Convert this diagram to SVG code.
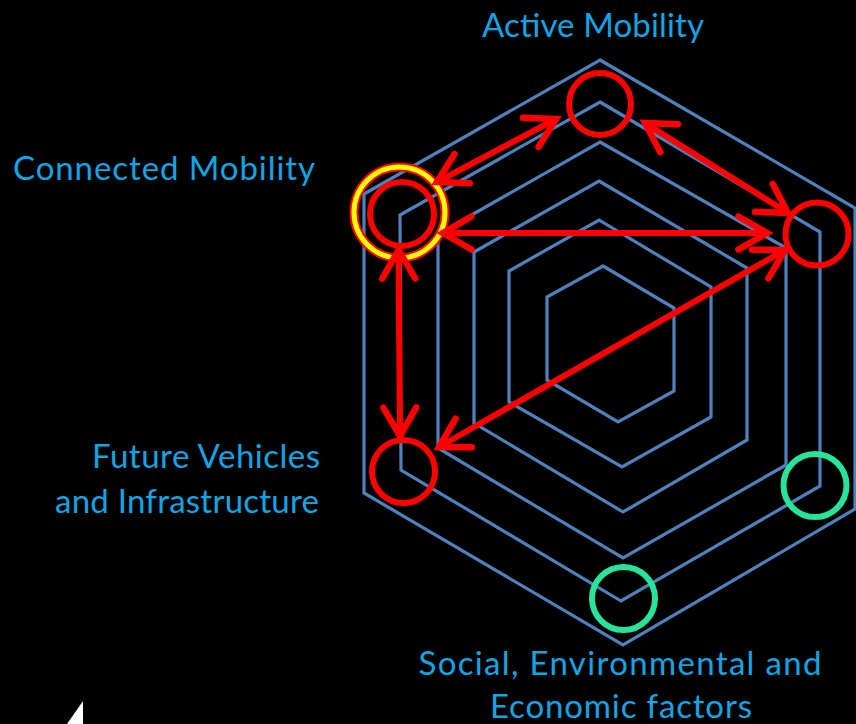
<svg xmlns="http://www.w3.org/2000/svg" width="856" height="724" viewBox="0 0 856 724">
<style>
.hex{fill:none;stroke:#4f81bd;stroke-width:3.2;stroke-linejoin:miter}
.lbl{font-family:"Lato","Open Sans","Liberation Sans",sans-serif;font-weight:400;font-size:33px;fill:#13a5e3}
.rc{fill:none;stroke:#ff0000;stroke-width:6}
.gc{fill:none;stroke:#2ae39a;stroke-width:6}
.arr{fill:none;stroke:#ff0000;stroke-width:6;stroke-linecap:round;marker-start:url(#ah);marker-end:url(#ah)}
</style>
<defs>
<marker id="ah" markerUnits="userSpaceOnUse" markerWidth="60" markerHeight="60" refX="0" refY="0" viewBox="-40 -30 50 60" orient="auto-start-reverse" overflow="visible">
<path d="M-28.5,-16.5 L0,0 L-28.5,16.5" fill="none" stroke="#ff0000" stroke-width="6.5" stroke-linecap="round" stroke-linejoin="miter"/>
</marker>
</defs>
<rect x="0" y="0" width="856" height="724" fill="#000"/>
<g id="hexagons">
<polygon class="hex" points="600,60 855,208 855,509 623,645 364,493 364,194"/>
<polygon class="hex" points="600,102 820,232 820,486 621,601 401,470 400,215"/>
<polygon class="hex" points="600,142 786,248 786,465 623,558 438,448 438,234"/>
<polygon class="hex" points="599,181 747,268 747,440 623,512 474,423 474,252"/>
<polygon class="hex" points="599,220 711,287 711,417 622,467 509,402 509,271"/>
<polygon class="hex" points="603,266 674,308 674,391 618,422 547,380 547,297"/>
</g>
<g id="node-active">
<circle class="rc" cx="600" cy="104" r="31"/>
<text class="lbl" x="593" y="37" text-anchor="middle" textLength="222">Active Mobility</text>
</g>
<g id="node-connected">
<circle cx="399.5" cy="212.5" r="45.5" fill="none" stroke="#ff0000" stroke-width="9"/>
<circle cx="399.5" cy="212.5" r="45.5" fill="none" stroke="#ffff00" stroke-width="5"/>
<circle class="rc" cx="402" cy="214" r="32"/>
<text class="lbl" x="13" y="180" textLength="302">Connected Mobility</text>
</g>
<g id="node-right">
<circle class="rc" cx="817" cy="234" r="31.5"/>
</g>
<g id="node-future">
<circle class="rc" cx="403.5" cy="471.5" r="31.5"/>
<text class="lbl" x="320" y="468" text-anchor="end" textLength="228">Future Vehicles</text>
<text class="lbl" x="319" y="513" text-anchor="end" textLength="264">and Infrastructure</text>
</g>
<g id="node-green-right">
<circle class="gc" cx="815" cy="485.5" r="31.5"/>
</g>
<g id="node-social">
<circle class="gc" cx="623.5" cy="598.5" r="31.5"/>
<text class="lbl" x="620" y="675" text-anchor="middle" textLength="403">Social, Environmental and</text>
<text class="lbl" x="621" y="718" text-anchor="middle" textLength="262">Economic factors</text>
</g>
<g id="connectors">
<line class="arr" x1="437" y1="182" x2="556" y2="119"/>
<line class="arr" x1="645" y1="123" x2="788" y2="213"/>
<line class="arr" x1="443" y1="233" x2="767" y2="233"/>
<line class="arr" x1="785" y1="250" x2="439" y2="447"/>
<line class="arr" x1="398.5" y1="250" x2="400" y2="436"/>
</g>
<polygon points="83,701 83,724 67,724" fill="#fff"/>
</svg>
